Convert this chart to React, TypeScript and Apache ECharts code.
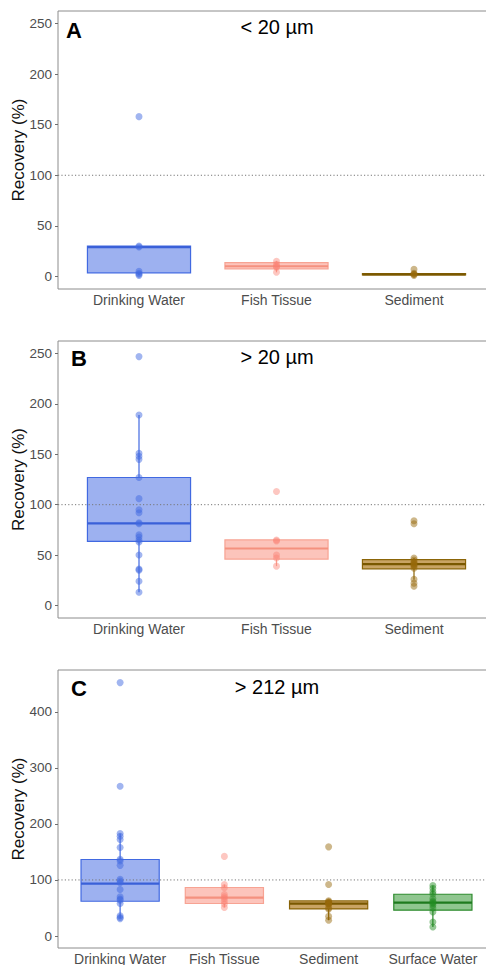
import React, { useEffect, useRef } from 'react';
import * as echarts from 'echarts';

// ---------- data ----------
const CATEGORIES = ['Drinking Water', 'Fish Tissue', 'Sediment', 'Surface Water'];
const PANEL_LETTERS = ['A', 'B', 'C'];
const PANEL_TITLES = ['< 20 µm', '> 20 µm', '> 212 µm'];
const Y_AXIS_NAME = 'Recovery (%)';
const REFERENCE_RECOVERY = 100;
const Y_TICKS_AB = [0, 50, 100, 150, 200, 250];
const Y_TICKS_C = [0, 100, 200, 300, 400];

// box statistics: [lower whisker, Q1, median, Q3, upper whisker]
const boxesA = [
  [1, 3.5, 29, 30, 30],
  [4, 7.5, 10, 13.5, 15],
  [1, 1.5, 2, 2.8, 3],
];
const boxesB = [
  [13, 63.5, 81.5, 127, 189],
  [39, 46, 56.5, 65, 65],
  [25.5, 36.3, 41, 45.5, 47],
];
const boxesC = [
  [31, 62, 93.5, 136.5, 183],
  [51, 58, 68.5, 86.5, 92],
  [28, 48.3, 57.8, 62.5, 63],
  [16, 46, 59.6, 74.5, 90],
];

// individual recoveries per category
const pointsA = [
  [158, 30, 29, 5, 3, 2, 1],
  [15, 12, 10, 9, 4],
  [7, 3, 2, 2, 1],
];
const pointsB = [
  [247, 189, 151, 148, 145, 127, 106, 95, 92, 82, 81, 70, 68, 65, 63, 50, 36, 35, 24, 13],
  [113, 65, 64, 50, 47, 39],
  [84, 81, 47, 45, 43, 42, 41, 40, 39, 37, 26, 22, 19],
];
const pointsC = [
  [452, 267, 183, 178, 172, 158, 137, 134, 126, 101, 98, 95, 83, 70, 66, 64, 58, 36, 33, 31],
  [142, 92, 86, 74, 70, 67, 62, 57, 51],
  [159, 92, 63, 61, 60, 59, 58, 57, 56, 50, 48, 35, 28],
  [90, 85, 79, 75, 67, 62, 60, 58, 55, 50, 43, 25, 16],
];

// ---------- styles ----------
const BOX_FILL = ['#9DB1F0', '#FCC4BB', '#C9A464', '#8FC68F'];
const BOX_LINE = ['#4169E1', '#F7A393', '#8B6508', '#2E8B2E'];
const MEDIAN_LINE = ['#3A60D8', '#F4917F', '#7A5800', '#1E7A1E'];
const POINT_COLOR = [
  'rgba(65,105,225,0.62)',
  'rgba(250,128,114,0.55)',
  'rgba(150,105,10,0.6)',
  'rgba(34,139,34,0.6)',
];
const FONT = '"Liberation Sans", Arial, Helvetica, sans-serif';

const PANELS = [
  { top: 11, height: 278, innerLeft: 70.25, innerWidth: 412.5, yMin: -12.5, yMax: 262.5, ticks: Y_TICKS_AB, boxes: boxesA, points: pointsA, letterX: 66, letterY: 30, titleY: 27 },
  { top: 341, height: 277, innerLeft: 70.25, innerWidth: 412.5, yMin: -12.5, yMax: 262.5, ticks: Y_TICKS_AB, boxes: boxesB, points: pointsB, letterX: 71, letterY: 358, titleY: 357 },
  { top: 670, height: 278, innerLeft: 68, innerWidth: 417, yMin: -21.4, yMax: 474.5, ticks: Y_TICKS_C, boxes: boxesC, points: pointsC, letterX: 71, letterY: 688, titleY: 687 },
];

function buildOption() {
  const grid: any[] = [];
  const xAxis: any[] = [];
  const yAxis: any[] = [];
  const series: any[] = [];
  const graphic: any[] = [];

  PANELS.forEach((p, k) => {
    const outer = k * 2;
    const inner = k * 2 + 1;
    const cats = CATEGORIES.slice(0, p.boxes.length);
    grid.push({
      left: 58, right: -11, top: p.top, height: p.height,
      show: true, borderColor: '#8C8C8C', borderWidth: 1, backgroundColor: '#fff',
      containLabel: false, outerBoundsMode: 'none',
    });
    grid.push({
      left: p.innerLeft, width: p.innerWidth, top: p.top, height: p.height,
      containLabel: false, outerBoundsMode: 'none',
    });
    xAxis.push({ gridIndex: outer, type: 'value', min: 0, max: 1, show: false });
    xAxis.push({
      gridIndex: inner, type: 'category', data: cats, boundaryGap: true,
      axisLine: { show: false }, axisTick: { show: false }, splitLine: { show: false },
      axisLabel: { color: '#4D4D4D', fontSize: 14, fontFamily: FONT, margin: 4, interval: 0, hideOverlap: false },
    });
    yAxis.push({
      gridIndex: outer, type: 'value', min: p.yMin, max: p.yMax,
      name: Y_AXIS_NAME, nameLocation: 'middle', nameGap: 31, nameRotate: 90,
      nameMoveOverlap: false,
      nameTextStyle: { color: '#111', fontSize: 17, fontFamily: FONT },
      axisLine: { show: false },
      axisTick: { show: true, length: 3, lineStyle: { color: '#6E6E6E' }, customValues: p.ticks },
      axisLabel: { color: '#4D4D4D', fontSize: 13.5, fontFamily: FONT, margin: 6, customValues: p.ticks },
      splitLine: { show: false },
    });
    yAxis.push({ gridIndex: inner, type: 'value', min: p.yMin, max: p.yMax, show: false, splitLine: { show: false } });

    series.push({
      type: 'custom',
      xAxisIndex: inner, yAxisIndex: inner,
      z: 2,
      silent: true,
      encode: { x: 0, y: [1, 2, 3, 4, 5] },
      data: p.boxes.map((b, i) => [i, ...b]),
      renderItem: (params: any, api: any) => {
        const ci = api.value(0);
        const lo = api.coord([ci, api.value(1)]);
        const q1 = api.coord([ci, api.value(2)]);
        const md = api.coord([ci, api.value(3)]);
        const q3 = api.coord([ci, api.value(4)]);
        const hi = api.coord([ci, api.value(5)]);
        const bw = api.size([1, 0])[0] * 0.75;
        const cx = md[0];
        const stroke = BOX_LINE[ci];
        return {
          type: 'group',
          children: [
            { type: 'line', shape: { x1: cx, y1: hi[1], x2: cx, y2: q3[1] }, style: { stroke, lineWidth: 1.2 } },
            { type: 'line', shape: { x1: cx, y1: q1[1], x2: cx, y2: lo[1] }, style: { stroke, lineWidth: 1.2 } },
            { type: 'rect', shape: { x: cx - bw / 2, y: q3[1], width: bw, height: q1[1] - q3[1] }, style: { fill: BOX_FILL[ci], stroke, lineWidth: 1.2 } },
            { type: 'line', shape: { x1: cx - bw / 2, y1: md[1], x2: cx + bw / 2, y2: md[1] }, style: { stroke: MEDIAN_LINE[ci], lineWidth: 2.2 } },
          ],
        };
      },
    });

    series.push({
      type: 'line',
      xAxisIndex: outer, yAxisIndex: outer,
      z: 3, silent: true, symbol: 'none',
      data: [[0, REFERENCE_RECOVERY], [1, REFERENCE_RECOVERY]],
      lineStyle: { color: '#777', width: 1, type: [1.2, 2.2] },
    });

    series.push({
      type: 'scatter',
      xAxisIndex: inner, yAxisIndex: inner,
      z: 4, silent: true,
      symbolSize: 7,
      data: p.points.flatMap((arr, i) => arr.map((v) => [i, v])),
      itemStyle: { color: (d: any) => POINT_COLOR[d.value[0]] },
    });

    graphic.push({
      type: 'text', x: p.letterX, y: p.letterY,
      style: { text: PANEL_LETTERS[k], font: `bold 22px ${FONT}`, fill: '#000', align: 'left', verticalAlign: 'middle' },
    });
    graphic.push({
      type: 'text', x: 277, y: p.titleY,
      style: { text: PANEL_TITLES[k], font: `20px ${FONT}`, fill: '#000', align: 'center', verticalAlign: 'middle' },
    });
  });

  return { animation: false, backgroundColor: '#fff', grid, xAxis, yAxis, series, graphic };
}

export default function App() {
  const ref = useRef<HTMLDivElement>(null);
  useEffect(() => {
    document.body.style.margin = '0';
    if (!ref.current) return;
    const chart = echarts.init(ref.current, undefined, { renderer: 'svg' });
    chart.setOption(buildOption() as any);
    return () => chart.dispose();
  }, []);
  return <div ref={ref} style={{ width: 486, height: 965 }} />;
}
